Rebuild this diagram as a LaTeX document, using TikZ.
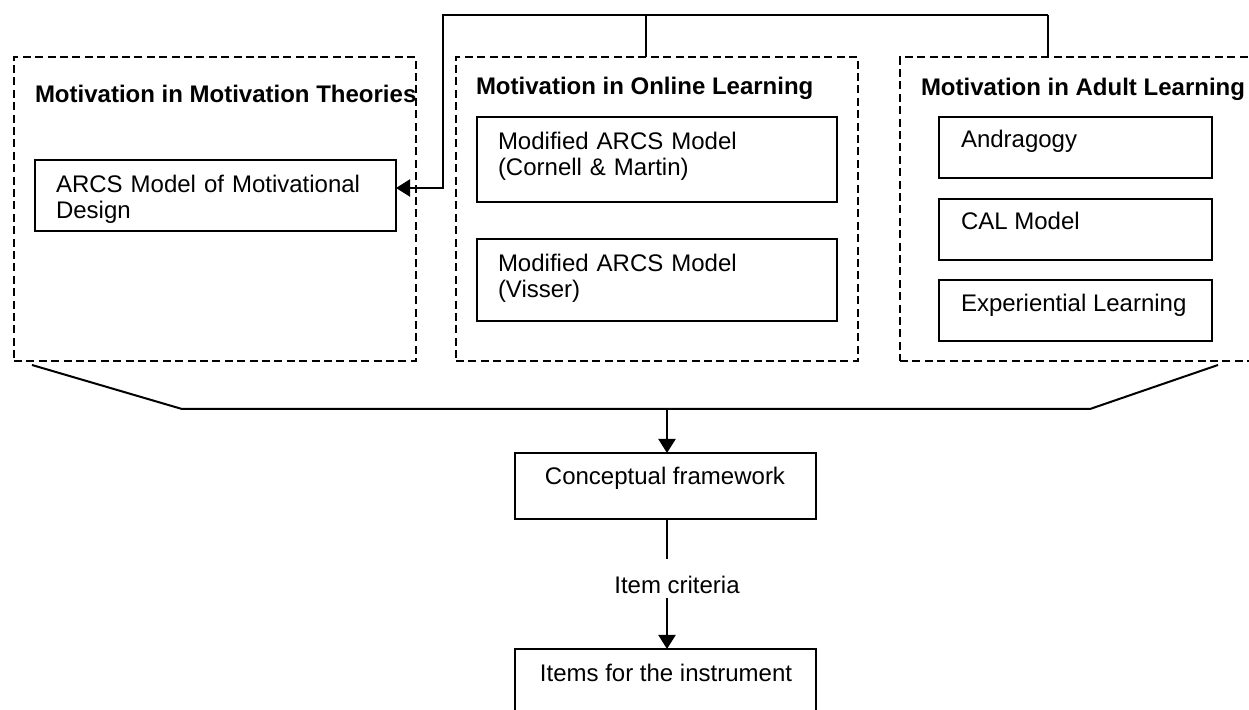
\documentclass[tikz,border=0pt]{standalone}
\usepackage{fontspec}
\setmainfont{Liberation Sans}
\usetikzlibrary{fit,arrows.meta}
\begin{document}
\begin{tikzpicture}[x=0.5pt,y=-0.5pt,
  every node/.style={inner sep=0pt, outer sep=0pt, font=\fontsize{12}{13}\selectfont},
  grp/.style={draw, line width=0.8pt, dash pattern=on 4pt off 2.2pt, fit={#1}},
  box/.style={draw, line width=1pt, fit={#1}},
  ttl/.style={anchor=base west, font=\fontsize{12}{13}\selectfont\bfseries},
  txt/.style={anchor=base west, text width=#1, align=left},
  ctr/.style={anchor=base},
  conn/.style={draw, line width=1pt},
  arr/.style={draw, line width=1pt, -{Triangle[width=8.5pt,length=7pt]}}
]
\useasboundingbox (0,0) rectangle (1249,710);
\clip (0,0) rectangle (1249,710);

% group boxes
\node[grp={(14,57)(416,361)}] (g1) {};
\node[grp={(456,57)(858,361)}] (g2) {};
\node[grp={(900,57)(1300,361)}] (g3) {};

% group titles
\node[ttl] (tg1) at (35,103) {Motivation in Motivation Theories};
\node[ttl] (tg2) at (476,95) {Motivation in Online Learning};
\node[ttl] (tg3) at (921,96) {Motivation in Adult Learning};

% inner boxes
\node[box={(35,160)(396,231)}] (arcs) {};
\node[box={(477,117)(837,202)}] (m1) {};
\node[box={(477,239)(837,321)}] (m2) {};
\node[box={(939,117)(1212,178)}] (a1) {};
\node[box={(939,199)(1212,260)}] (a2) {};
\node[box={(939,280)(1212,341)}] (a3) {};
\node[box={(515,453)(816,519)}] (cf) {};
\node[box={(515,649)(816,730)}] (items) {};

% texts
\node[txt=170pt] (tarcs) at (56,193) {ARCS Model of Motivational\\Design};
\node[txt=160pt] (tm1) at (498,150) {Modified ARCS Model\\(Cornell \& Martin)};
\node[txt=160pt] (tm2) at (498,272) {Modified ARCS Model\\(Visser)};
\node[anchor=base west] (ta1) at (961,148) {Andragogy};
\node[anchor=base west] (ta2) at (961,230) {CAL Model};
\node[anchor=base west] (ta3) at (961,312) {Experiential Learning};
\node[ctr] (tcf) at (665,485) {Conceptual framework};
\node[ctr] (titems) at (666,682) {Items for the instrument};
\node[ctr] (crit) at (677,594) {Item criteria};

% top connector
\coordinate (t1) at (443,15);
\coordinate (t2) at (646,15);
\coordinate (t3) at (1048,15);
\coordinate (t1b) at (443,188);
\draw[conn] (t2) -- (t2 |- g2.north);
\draw[conn] (t3) -- (t3 |- g3.north);
\draw[arr] (t3) -- (t1) -- (t1b) -- (t1b -| arcs.east);

% bottom connector
\coordinate (bl) at (32,365);
\coordinate (h1) at (182,409);
\coordinate (h2) at (1090,409);
\coordinate (br) at (1218,365);
\coordinate (hm) at (667,409);
\draw[conn] (bl) -- (h1) -- (h2) -- (br);
\draw[arr] (hm) -- (hm |- cf.north);

% lower chain
\coordinate (c1) at (667,559);
\coordinate (c2) at (667,598);
\draw[conn] (c1 |- cf.south) -- (c1);
\draw[arr] (c2) -- (c2 |- items.north);
\end{tikzpicture}
\end{document}
